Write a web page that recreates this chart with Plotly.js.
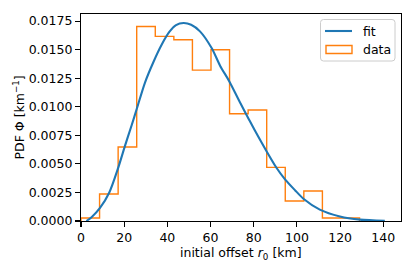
<!DOCTYPE html>
<html>
<head>
<meta charset="utf-8">
<script src="https://cdn.plot.ly/plotly-3.0.1.min.js"></script>
<style>
  html, body { margin: 0; padding: 0; background: #fff; }
  #chart { width: 415px; height: 270px; }
</style>
</head>
<body>
<div id="chart"></div>
<script>
// ---- data ----
const binEdges = [0, 8.6, 17.2, 25.8, 34.4, 43.0, 51.6, 60.2, 68.8, 77.4, 86.0, 94.6, 103.2, 111.8, 120.4, 129.0];
const binDensity = [0.00026, 0.00236, 0.00648, 0.01703, 0.01616, 0.01587, 0.01321, 0.01499, 0.00939, 0.00971, 0.00469, 0.00175, 0.00262, 0.00026, 0.00026];
const fitX = [2.5, 5, 8.8, 13.1, 17.3, 20.4, 23.5, 25.8, 29.6, 33.5, 37.4, 40.9, 44, 47.5, 51, 55.1, 60.5, 64.4, 68.7, 73.6, 77.9, 80.6, 86.0, 90.6, 94.4, 99.1, 103, 110.6, 119.9, 129.2, 140.7];
const fitY = [0.00000, 0.00035, 0.00114, 0.00250, 0.00470, 0.00660, 0.00840, 0.00980, 0.01210, 0.01390, 0.01545, 0.01655, 0.01715, 0.01733, 0.01718, 0.01660, 0.01514, 0.01360, 0.01222, 0.01040, 0.00885, 0.00790, 0.00609, 0.00464, 0.00367, 0.00270, 0.00195, 0.00100, 0.00040, 0.00012, 0.00002];
const xTicks = [0, 20, 40, 60, 80, 100, 120, 140];
const yTicks = [0, 0.0025, 0.005, 0.0075, 0.01, 0.0125, 0.015, 0.0175];
const legendLabels = ["fit", "data"];
const xTitle = "initial offset <i>r</i><sub>0</sub> [km]";
const yTitle = "PDF Φ [km<sup>−1</sup>]";

// ---- styling ----
const BLUE = "#1f77b4", ORANGE = "#ff7f0e";
const FONT = "DejaVu Sans, sans-serif";
const W = 415, H = 270, ML = 81, MR = 14, MT = 14, MB = 49;
const PW = W - ML - MR, PH = H - MT - MB;
const fx = p => (p - ML) / PW;
const fy = p => (H - MB - p) / PH;
const txtFont = { family: FONT, size: 12.5, color: "#000" };

// step outline of the histogram
const stepX = [binEdges[0]].concat(binEdges);
const stepY = [0].concat(binDensity, [0]);

const traces = [
  { x: stepX, y: stepY, type: "scatter", mode: "lines",
    line: { color: ORANGE, width: 1.4, shape: "hv" }, name: "data", showlegend: false, hoverinfo: "skip" },
  { x: fitX, y: fitY, type: "scatter", mode: "lines",
    line: { color: BLUE, width: 2.1, shape: "spline", smoothing: 0.8 }, name: "fit", showlegend: false, hoverinfo: "skip" }
];

// manual matplotlib-like legend
function roundRect(x0, y0, x1, y1, r) {
  const rx = r / PW, ry = r / PH;
  const a = fx(x0), b = fx(x1), t = fy(y0), u = fy(y1);
  return `M${a + rx},${t} L${b - rx},${t} Q${b},${t} ${b},${t - ry} L${b},${u + ry} Q${b},${u} ${b - rx},${u} ` +
         `L${a + rx},${u} Q${a},${u} ${a},${u + ry} L${a},${t - ry} Q${a},${t} ${a + rx},${t} Z`;
}
const shapes = [
  { type: "path", xref: "paper", yref: "paper", path: roundRect(320.5, 19.5, 395, 61, 3),
    line: { color: "#cccccc", width: 1 }, fillcolor: "rgba(255,255,255,0.8)", layer: "above" },
  { type: "line", xref: "paper", yref: "paper", x0: fx(325), x1: fx(352), y0: fy(31), y1: fy(31),
    line: { color: BLUE, width: 2.1 }, layer: "above" },
  { type: "rect", xref: "paper", yref: "paper", x0: fx(326), x1: fx(352), y0: fy(45.5), y1: fy(53.5),
    line: { color: ORANGE, width: 1.4 }, fillcolor: "rgba(0,0,0,0)", layer: "above" }
];
const annotations = [
  { xref: "paper", yref: "paper", x: fx(361), y: fy(31), text: legendLabels[0], showarrow: false,
    xanchor: "left", yanchor: "middle", font: txtFont },
  { xref: "paper", yref: "paper", x: fx(361), y: fy(49.5), text: legendLabels[1], showarrow: false,
    xanchor: "left", yanchor: "middle", font: txtFont },
  // axis titles
  { xref: "paper", yref: "paper", x: 0.5, y: fy(253), text: xTitle, showarrow: false,
    xanchor: "center", yanchor: "middle", font: txtFont },
  { xref: "paper", yref: "paper", x: fx(18), y: 0.5, text: yTitle, showarrow: false, textangle: -90,
    xanchor: "center", yanchor: "middle", font: txtFont }
];

const axisCommon = {
  showgrid: false, zeroline: false, showline: true, mirror: true,
  linecolor: "#000", linewidth: 1.1, ticks: "outside", ticklen: 5, tickwidth: 1.1, tickcolor: "#000",
  tickfont: txtFont, automargin: false
};

const layout = {
  width: W, height: H,
  margin: { l: ML, r: MR, t: MT, b: MB, pad: 0 },
  paper_bgcolor: "#fff", plot_bgcolor: "#fff",
  showlegend: false,
  font: txtFont,
  xaxis: Object.assign({}, axisCommon, {
    range: [0, 148.2], tickvals: xTicks, ticktext: xTicks.map(String)
  }),
  yaxis: Object.assign({}, axisCommon, {
    range: [0, 0.01812], tickvals: yTicks, ticktext: yTicks.map(v => v.toFixed(4))
  }),
  shapes: shapes,
  annotations: annotations
};

Plotly.newPlot("chart", traces, layout, { staticPlot: true, displayModeBar: false });
</script>
</body>
</html>
